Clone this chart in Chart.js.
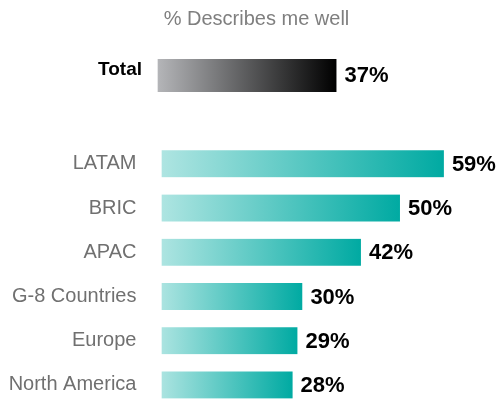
<!DOCTYPE html>
<html>
<head>
<meta charset="utf-8">
<script src="https://cdn.jsdelivr.net/npm/chart.js@4.4.0/dist/chart.umd.min.js"></script>
<style>
  html, body { margin: 0; padding: 0; background: #fff; overflow: hidden; }
  #wrap { width: 500px; height: 433px; }
</style>
</head>
<body>
<div id="wrap"><canvas id="chart" width="500" height="433"></canvas></div>
<script>
var categories = ['Total', '', 'LATAM', 'BRIC', 'APAC', 'G-8 Countries', 'Europe', 'North America'];
var totalValues = [37, null, null, null, null, null, null, null];
var regionValues = [null, null, 59, 50, 42, 30, 29, 28];

function barGradient(from, to) {
	return function(context) {
		var chart = context.chart,
			x = chart.scales && chart.scales.x,
			v = context.raw;
		if (!chart.chartArea || !x || v == null) {
			return from;
		}
		var g = chart.ctx.createLinearGradient(x.getPixelForValue(0), 0, x.getPixelForValue(v), 0);
		g.addColorStop(0, from);
		g.addColorStop(1, to);
		return g;
	};
}

// percentage labels at the end of each bar
var valueLabels = {
	id: 'valueLabels',
	afterDatasetsDraw: function(chart) {
		var ctx = chart.ctx;
		ctx.save();
		ctx.fillStyle = '#000';
		ctx.font = 'bold 22px "Liberation Sans", Arial, sans-serif';
		ctx.textBaseline = 'middle';
		ctx.textAlign = 'left';
		chart.data.datasets.forEach(function(ds, di) {
			var meta = chart.getDatasetMeta(di);
			meta.data.forEach(function(bar, i) {
				if (ds.data[i] == null) return;
				ctx.fillText(ds.data[i] + '%', bar.x + 8, bar.y + 1);
			});
		});
		ctx.restore();
	}
};

new Chart(document.getElementById('chart'), {
	type: 'bar',
	data: {
		labels: categories,
		datasets: [
			{
				data: totalValues,
				backgroundColor: barGradient('#b6b7ba', '#000000'),
				borderColor: '#ffffff',
				borderWidth: {left: 2, top: 0, right: 0, bottom: 0},
				borderSkipped: false,
				barThickness: 33
			},
			{
				data: regionValues,
				backgroundColor: barGradient('#b2e6e3', '#00aaa2'),
				borderColor: '#ffffff',
				borderWidth: {left: 6, top: 0, right: 0, bottom: 0},
				borderSkipped: false,
				barThickness: 27
			}
		]
	},
	options: {
		indexAxis: 'y',
		responsive: false,
		animation: false,
		// negative right padding pushes the title centre to match the original
		layout: {padding: {left: 0, right: -13, top: 0, bottom: 12}},
		plugins: {
			legend: {display: false},
			tooltip: {enabled: false},
			title: {
				display: true,
				text: '% Describes me well',
				color: '#7f7f7f',
				font: {family: '"Liberation Sans", Arial, sans-serif', size: 20, weight: 'normal'},
				padding: {top: 7.5, bottom: 21.8}
			}
		},
		scales: {
			x: {
				display: false,
				stacked: true,
				min: 0,
				max: 70.5
			},
			y: {
				stacked: true,
				grid: {display: false, drawTicks: false},
				border: {display: false},
				afterFit: function(scale) { scale.width = 156; },
				ticks: {
					padding: 14,
					// Total sits a bit higher and further right than the region labels
					callback: function(value, index) {
						var label = this.getLabelForValue(value);
						return index === 0 ? [label, ''] : label + ' ';
					},
					color: function(c) { return c.index === 0 ? '#000000' : '#707070'; },
					font: function(c) {
						return c.index === 0 ?
							{family: '"Liberation Sans", Arial, sans-serif', size: 19, weight: 'bold', lineHeight: 0.63} :
							{family: '"Liberation Sans", Arial, sans-serif', size: 20, weight: 'normal'};
					}
				}
			}
		}
	},
	plugins: [valueLabels]
});
</script>
</body>
</html>
